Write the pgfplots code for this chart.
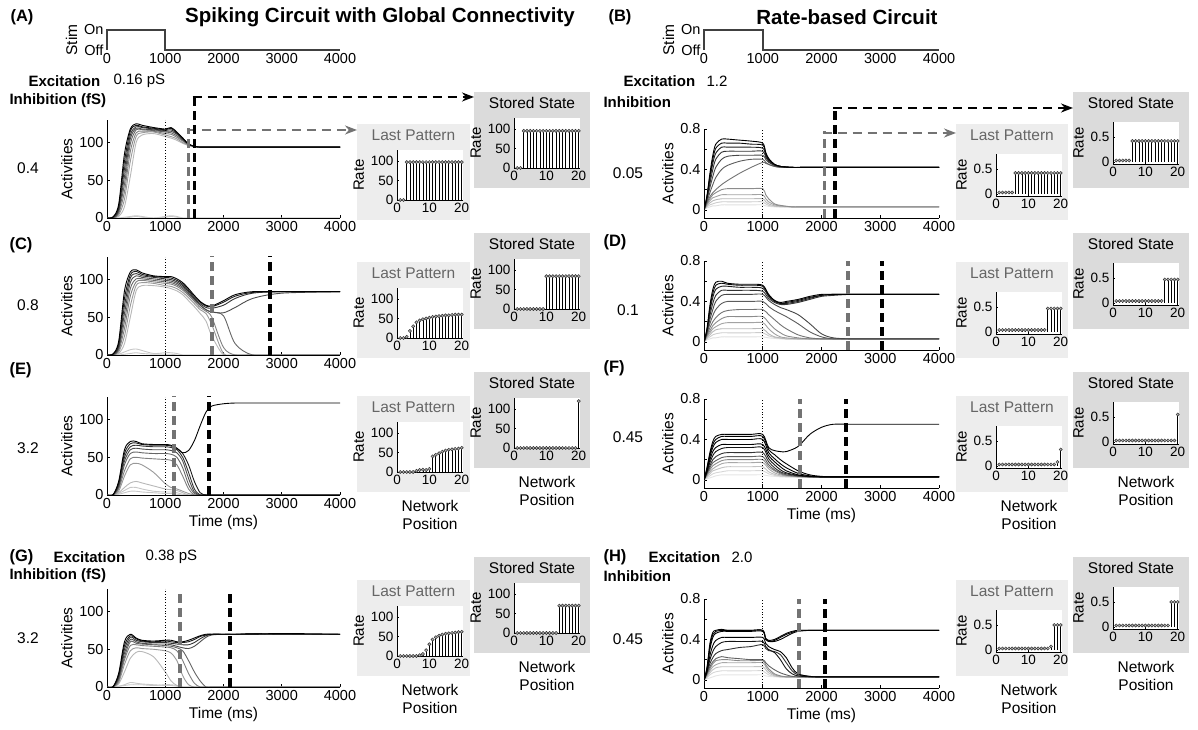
\documentclass[border=0pt]{standalone}
\usepackage{fontspec}
\setmainfont{Liberation Sans}
\usepackage{pgfplots}
\usepackage{pgfplotstable}
\pgfplotsset{compat=1.18}
\usetikzlibrary{arrows.meta}
\newcommand\fs[1]{\fontsize{#1}{#1}\selectfont}

\colorlet{s1}{black!22}\colorlet{s2}{black!22}\colorlet{s3}{black!28}\colorlet{s4}{black!40}
\colorlet{s5}{black!50}\colorlet{s6}{black!60}\colorlet{s7}{black!70}\colorlet{s8}{black!80}
\colorlet{s9}{black!90}\colorlet{s10}{black}
\colorlet{r1}{black!12}\colorlet{r2}{black!20}\colorlet{r3}{black!28}\colorlet{r4}{black!36}
\colorlet{r5}{black!45}\colorlet{r6}{black!55}\colorlet{r7}{black!64}\colorlet{r8}{black!72}
\colorlet{r9}{black!80}\colorlet{r10}{black!88}\colorlet{r11}{black!95}\colorlet{r12}{black}
\colorlet{f1}{black!10}\colorlet{f2}{black!16}\colorlet{f3}{black!24}\colorlet{f4}{black!34}
\colorlet{f5}{black!46}\colorlet{f6}{black!62}\colorlet{f7}{black!80}\colorlet{f8}{black!92}
\colorlet{f9}{black}\colorlet{f10}{black}\colorlet{f11}{black}\colorlet{f12}{black}
\colorlet{lastbg}{black!7}\colorlet{storebg}{black!14}

\pgfplotsset{
 base/.style={scale only axis, axis x line*=bottom, axis y line*=left, tick align=inside,
   major tick length=3pt, tick style={black,line width=0.6pt}, axis line style={black,line width=0.8pt},
   /pgf/number format/assume math mode=true, /pgf/number format/set thousands separator={},
   scaled ticks=false, tick label style={font=\fs{14.5}}, label style={font=\fs{15.5}}, clip mode=individual},
 mainx/.style={base, xmin=0, xmax=4000, xtick={0,1000,2000,3000,4000}, ylabel={Activities}},
 spk/.style={mainx, width=233pt, height=98pt, ymin=0, ymax=130, ytick={0,50,100}},
 rte/.style={mainx, width=235pt, height=89pt, ymin=-0.08, ymax=0.8, ytick={0,0.2,0.4,0.6,0.8}, yticklabels={0,,0.4,,0.8}},
 stembase/.style={base, width=66pt, xmin=0, xmax=20.4, xtick={0,10,20}, major tick length=2pt,
   axis background/.style={fill=white}, ylabel={Rate}, tick label style={font=\fs{13.5}}, ylabel style={font=\fs{15}}},
 sstem/.style={stembase, height=50pt, ymin=0, ymax=128, ytick={0,50,100}},
 rstem/.style={stembase, height=42pt, ymin=-0.04, ymax=0.8, ytick={0,0.5}},
 stimax/.style={scale only axis, height=20pt, xmin=0, xmax=4000, ymin=0, ymax=1, axis line style={draw=none},
   major tick length=0pt, xtick={0,1000,2000,3000,4000}, ytick={0,1}, yticklabels={Off,On}, ylabel={Stim}, clip=false,
   /pgf/number format/assume math mode=true, /pgf/number format/set thousands separator={},
   tick label style={font=\fs{14.5}}, label style={font=\fs{15.5}}},
 stemplot/.style={ycomb, black, line width=0.7pt, mark=*, mark size=1.6pt, mark options={fill=black!30, draw=black!80, line width=0.5pt, solid}},
 dgray/.style={black!55, line width=3.5pt, dash pattern=on 9pt off 5pt},
 dblack/.style={black, line width=3.5pt, dash pattern=on 9pt off 5pt},
 dotl/.style={black, dotted, line width=0.8pt},
}

\pgfplotstableread{
t c1 c2 c3 c4 c5 c6 c7 c8 c9 c10
0 0 0 0 0 0 0 0 0 0 0
100 0 0 0 0 0 0 0 1 1 1
200 0 0 2 4 6 8 10 12 15 18
300 1 0 15 25 35 45 55 65 75 85
400 2 1 55 75 88 98 105 110 115 118
500 3 2 100 108 113 117 119 121 123 125
600 2 1 110 113 115 117 118 120 121 123
800 0 0 112 114 115 116 117 118 119 120
1000 2 1 108 110 112 114 115 116 117 118
1100 3 2 106 108 111 113 115 117 119 120
1200 2 1 103 105 107 109 111 112 113 114
1300 0 0 99 100 102 103 104 105 106 106
1400 0 0 96 97 97 98 98 98 98 98
1500 0 0 94 95 95 95 95 95 95 95
1600 0 0 94 94 94 94 94 94 94 94
1700 0 0 94 94 94 94 94 94 94 94
1800 0 0 94 94 94 94 94 94 94 94
2000 0 0 94 94 94 94 94 94 94 94
2200 0 0 94 94 94 94 94 94 94 94
2500 0 0 94 94 94 94 94 94 94 94
3000 0 0 94 94 94 94 94 94 94 94
4000 0 0 94 94 94 94 94 94 94 94
}\tabA

\pgfplotstableread{
t c1 c2 c3 c4 c5 c6 c7 c8 c9 c10
0 0 0 0 0 0 0 0 0 0 0
100 0 0 0 0 0 0 0 1 1 1
200 1 0 2 4 6 8 10 12 15 18
300 4 1 15 25 35 45 55 65 75 85
400 7 2 50 65 78 88 96 102 106 110
500 8 3 85 92 97 101 105 108 111 113
600 6 2 92 96 99 101 103 105 107 109
800 2 1 92 95 97 99 101 103 104 105
1000 3 1 90 92 95 97 99 101 103 104
1100 3 1 88 91 94 96 98 100 102 104
1200 2 0 85 88 91 93 95 97 99 101
1300 0 0 80 83 86 88 90 92 94 96
1400 0 0 72 76 79 81 82 84 86 88
1500 0 0 64 68 71 73 74 75 77 79
1600 0 0 55 60 63 66 66 68 70 71
1700 0 0 45 55 58 60 60 63 65 66
1800 0 0 25 40 50 57 57 62 64 65
2000 0 0 0 2 10 52 56 66 70 72
2200 0 0 0 0 0 15 63 75 78 80
2500 0 0 0 0 0 0 75 82 83 84
3000 0 0 0 0 0 0 82 84 84 84
4000 0 0 0 0 0 0 84 84 84 84
}\tabC

\pgfplotstableread{
t c1 c2 c3 c4 c5 c6 c7 c8 c9 c10
0 0 0 0 0 0 0 0 0 0 0
100 0 0 0 0 0 0 0 0 0 0
200 1 2 3 5 8 10 12 14 16 18
300 3 6 10 25 32 40 45 50 55 60
400 5 10 16 40 48 55 60 64 68 71
500 5 10 18 42 50 57 62 66 69 71
600 4 8 16 40 49 56 61 65 67 68
800 3 5 12 30 48 55 60 64 66 67
1000 2 4 8 15 47 55 60 64 66 67
1100 2 4 7 10 46 54 59 63 65 66
1200 1 3 6 8 40 50 56 60 62 62
1300 0 1 3 5 25 36 45 50 55 56
1400 0 0 0 2 8 14 22 30 40 59
1500 0 0 0 0 0 2 4 8 18 72
1600 0 0 0 0 0 0 0 0 3 92
1700 0 0 0 0 0 0 0 0 0 110
1800 0 0 0 0 0 0 0 0 0 118
2000 0 0 0 0 0 0 0 0 0 121
2200 0 0 0 0 0 0 0 0 0 122
2500 0 0 0 0 0 0 0 0 0 122
3000 0 0 0 0 0 0 0 0 0 122
4000 0 0 0 0 0 0 0 0 0 122
}\tabE

\pgfplotstableread{
t c1 c2 c3 c4 c5 c6 c7 c8 c9 c10
0 0 0 0 0 0 0 0 0 0 0
100 0 0 0 0 0 0 0 0 0 0
200 1 1 4 6 8 10 12 14 16 18
300 3 2 20 30 36 40 45 50 55 60
400 6 3 38 48 55 60 63 66 68 70
500 5 3 46 52 56 58 60 62 64 65
600 4 3 47 51 55 57 58 60 61 62
800 3 2 40 50 54 56 57 59 60 61
1000 2 3 20 48 53 55 57 59 61 62
1100 2 3 8 45 52 54 56 58 60 62
1200 1 2 2 35 48 52 54 57 59 60
1300 0 0 0 15 35 48 52 56 59 60
1400 0 0 0 3 18 35 51 56 60 62
1500 0 0 0 0 5 20 54 59 63 65
1600 0 0 0 0 0 8 60 64 67 68
1700 0 0 0 0 0 0 66 68 69 70
1800 0 0 0 0 0 0 69 70 70 70
2000 0 0 0 0 0 0 70 70 70 70
2200 0 0 0 0 0 0 70 70 70 70
2500 0 0 0 0 0 0 70 70 71 70
3000 0 0 0 0 0 0 70 70 70 71
4000 0 0 0 0 0 0 70 70 70 70
}\tabG

\pgfplotstableread{
t c1 c2 c3 c4 c5 c6 c7 c8 c9 c10 c11 c12
0 0 0 0 0 0 0 0 0 0 0 0 0
50 .02 .03 .04 .05 .06 .07 .08 .10 .11 .12 .13 .14
100 .03 .05 .07 .09 .11 .13 .17 .22 .26 .30 .33 .36
150 .04 .06 .09 .12 .15 .17 .25 .33 .40 .46 .50 .54
200 .04 .07 .10 .13 .17 .20 .32 .42 .50 .56 .61 .65
300 .05 .08 .11 .15 .20 .25 .40 .50 .57 .62 .66 .70
400 .05 .08 .11 .15 .21 .29 .44 .53 .58 .62 .66 .70
600 .05 .08 .11 .15 .21 .36 .48 .54 .58 .62 .66 .69
800 .05 .08 .11 .15 .21 .42 .50 .54 .58 .62 .65 .68
1000 .05 .08 .11 .15 .21 .47 .50 .54 .58 .61 .64 .66
1050 .04 .06 .08 .11 .15 .46 .47 .50 .52 .54 .56 .57
1100 .035 .045 .06 .08 .11 .45 .45 .47 .48 .49 .50 .51
1200 .03 .035 .04 .05 .06 .43 .43 .44 .44 .45 .45 .45
1300 .03 .03 .035 .04 .045 .425 .42 .43 .43 .43 .43 .43
1500 .03 .03 .03 .03 .03 .42 .42 .42 .42 .42 .42 .42
1700 .03 .03 .03 .03 .03 .42 .42 .42 .42 .42 .42 .42
2000 .03 .03 .03 .03 .03 .42 .42 .42 .42 .42 .42 .42
2500 .03 .03 .03 .03 .03 .42 .42 .42 .42 .42 .42 .42
3000 .03 .03 .03 .03 .03 .42 .42 .42 .42 .42 .42 .42
4000 .03 .03 .03 .03 .03 .42 .42 .42 .42 .42 .42 .42
}\tabB

\pgfplotstableread{
t c1 c2 c3 c4 c5 c6 c7 c8 c9 c10 c11 c12
0 0 0 0 0 0 0 0 0 0 0 0 0
50 .02 .03 .04 .05 .06 .07 .08 .09 .10 .11 .12 .13
100 .03 .05 .07 .09 .11 .14 .18 .22 .26 .30 .33 .36
150 .04 .07 .10 .13 .16 .20 .26 .32 .38 .44 .48 .52
200 .04 .08 .12 .15 .19 .24 .32 .40 .46 .52 .56 .59
300 .05 .09 .13 .18 .23 .29 .38 .46 .51 .55 .58 .60
400 .05 .09 .13 .19 .25 .31 .40 .47 .51 .55 .57 .58
600 .05 .09 .13 .19 .25 .32 .40 .47 .51 .54 .56 .57
800 .05 .09 .13 .19 .25 .32 .40 .47 .51 .54 .56 .57
1000 .05 .09 .13 .19 .25 .32 .40 .47 .50 .53 .55 .56
1100 .04 .06 .08 .13 .19 .27 .35 .41 .43 .45 .46 .47
1200 .035 .045 .05 .08 .13 .22 .31 .37 .39 .40 .41 .41
1300 .03 .035 .04 .05 .09 .17 .28 .34 .37 .38 .38 .39
1400 .03 .03 .03 .04 .06 .13 .25 .32 .37 .38 .39 .40
1600 .03 .03 .03 .03 .04 .07 .18 .27 .39 .40 .41 .42
1800 .03 .03 .03 .03 .03 .04 .10 .18 .42 .43 .44 .45
2000 .03 .03 .03 .03 .03 .03 .05 .08 .45 .46 .46 .47
2200 .03 .03 .03 .03 .03 .03 .03 .04 .46 .47 .47 .47
2500 .03 .03 .03 .03 .03 .03 .03 .03 .47 .47 .47 .47
3000 .03 .03 .03 .03 .03 .03 .03 .03 .47 .47 .47 .47
4000 .03 .03 .03 .03 .03 .03 .03 .03 .47 .47 .47 .47
}\tabD

\pgfplotstableread{
t c1 c2 c3 c4 c5 c6 c7 c8 c9 c10 c11 c12
0 0 0 0 0 0 0 0 0 0 0 0 0
50 .01 .02 .03 .04 .05 .06 .07 .08 .09 .10 .11 .12
100 .02 .04 .06 .08 .10 .12 .14 .17 .20 .23 .25 .27
150 .03 .06 .09 .11 .14 .17 .20 .24 .28 .32 .35 .38
200 .04 .07 .10 .13 .16 .19 .23 .28 .32 .37 .40 .43
300 .05 .08 .12 .16 .19 .22 .26 .31 .35 .40 .43 .45
400 .05 .09 .13 .17 .20 .23 .27 .32 .35 .40 .43 .45
600 .05 .09 .13 .17 .20 .23 .27 .32 .35 .40 .43 .45
800 .05 .09 .13 .17 .20 .23 .27 .32 .35 .40 .43 .45
1000 .05 .09 .13 .17 .20 .23 .27 .32 .35 .40 .43 .45
1100 .04 .06 .08 .11 .13 .15 .18 .21 .24 .27 .30 .32
1200 .035 .045 .055 .07 .09 .10 .12 .15 .18 .21 .25 .29
1300 .03 .035 .04 .05 .06 .07 .08 .10 .13 .16 .20 .28
1400 .03 .03 .035 .04 .045 .05 .06 .07 .09 .12 .16 .28
1600 .03 .03 .03 .03 .035 .035 .04 .045 .05 .065 .09 .33
1800 .03 .03 .03 .03 .03 .03 .03 .035 .035 .04 .05 .45
2000 .03 .03 .03 .03 .03 .03 .03 .03 .03 .03 .035 .52
2200 .03 .03 .03 .03 .03 .03 .03 .03 .03 .03 .03 .55
2500 .03 .03 .03 .03 .03 .03 .03 .03 .03 .03 .03 .55
3000 .03 .03 .03 .03 .03 .03 .03 .03 .03 .03 .03 .55
4000 .03 .03 .03 .03 .03 .03 .03 .03 .03 .03 .03 .55
}\tabF

\pgfplotstableread{
t c1 c2 c3 c4 c5 c6 c7 c8 c9 c10 c11 c12
0 0 0 0 0 0 0 0 0 0 0 0 0
50 .01 .02 .03 .04 .05 .06 .07 .08 .09 .10 .11 .12
100 .02 .05 .07 .09 .11 .13 .16 .20 .24 .30 .33 .36
150 .03 .07 .10 .13 .16 .18 .22 .28 .34 .42 .45 .47
200 .04 .08 .12 .15 .19 .21 .26 .33 .39 .46 .48 .49
300 .05 .09 .13 .17 .20 .23 .29 .37 .42 .48 .49 .50
400 .05 .09 .13 .17 .20 .22 .30 .38 .42 .48 .49 .49
600 .05 .09 .13 .17 .19 .21 .32 .38 .42 .48 .49 .49
800 .05 .09 .13 .17 .19 .20 .33 .38 .42 .48 .49 .49
1000 .05 .09 .13 .17 .19 .20 .35 .38 .42 .48 .49 .49
1050 .04 .07 .10 .13 .15 .17 .31 .33 .36 .40 .41 .41
1100 .035 .05 .07 .09 .11 .14 .29 .30 .33 .38 .38 .39
1200 .03 .035 .04 .05 .06 .10 .28 .27 .30 .38 .39 .40
1300 .03 .03 .03 .035 .04 .07 .25 .20 .28 .40 .42 .43
1400 .03 .03 .03 .03 .03 .05 .17 .11 .22 .43 .45 .46
1500 .03 .03 .03 .03 .03 .035 .09 .06 .12 .46 .47 .48
1600 .03 .03 .03 .03 .03 .03 .05 .04 .06 .48 .49 .49
1800 .03 .03 .03 .03 .03 .03 .035 .03 .035 .49 .49 .49
2000 .03 .03 .03 .03 .03 .03 .03 .03 .03 .49 .49 .49
3000 .03 .03 .03 .03 .03 .03 .03 .03 .03 .49 .49 .49
4000 .03 .03 .03 .03 .03 .03 .03 .03 .03 .49 .49 .49
}\tabH

\begin{document}
\begin{tikzpicture}[x=1pt,y=1pt]
\useasboundingbox (0,0) rectangle (1198,730);
% gray boxes
\fill[lastbg] (357,510) rectangle (470,606);
\fill[storebg] (474,542) rectangle (590,638);
\fill[lastbg] (956,510) rectangle (1068,606);
\fill[storebg] (1073,542) rectangle (1189,638);
\fill[lastbg] (357,372) rectangle (470,468);
\fill[storebg] (474,401) rectangle (590,497);
\fill[lastbg] (956,372) rectangle (1068,468);
\fill[storebg] (1073,401) rectangle (1189,497);
\fill[lastbg] (357,238) rectangle (470,334);
\fill[storebg] (474,262) rectangle (590,358);
\fill[lastbg] (956,238) rectangle (1068,334);
\fill[storebg] (1073,262) rectangle (1189,358);
\fill[lastbg] (357,54) rectangle (470,150);
\fill[storebg] (474,77) rectangle (590,173);
\fill[lastbg] (956,54) rectangle (1068,150);
\fill[storebg] (1073,77) rectangle (1189,173);
% box titles
\foreach \x/\y in {413.5/595,413.5/457,413.5/323,413.5/139,1012/595,1012/457,1012/323,1012/139}
  \node[font=\fs{15.5}, text=black!60] at (\x,\y) {Last Pattern};
\foreach \x/\y in {532/627,532/486,532/347,532/162,1131/627,1131/486,1131/347,1131/162}
  \node[font=\fs{15.5}] at (\x,\y) {Stored State};
% Network Position labels
\foreach \x/\y in {430/224,547/248,1029/224,1146/248,430/40,547/63,1029/40,1146/63}{
  \node[font=\fs{15.5}] at (\x,\y) {Network};
  \node[font=\fs{15.5}] at (\x,\y-18) {Position};}
% texts
\node[font=\fs{16.5}\bfseries] at (22,713) {(A)};
\node[font=\fs{20.5}\bfseries] at (380,713) {Spiking Circuit with Global Connectivity};
\node[font=\fs{16.5}\bfseries] at (620,713) {(B)};
\node[font=\fs{20.5}\bfseries] at (847,713) {Rate-based Circuit};
\node[anchor=west,font=\fs{15}\bfseries] at (25,649) {Excitation};
\node[anchor=west,font=\fs{15}] at (110,649) {0.16 pS};
\node[anchor=west,font=\fs{15}\bfseries] at (6,629) {Inhibition (fS)};
\node[anchor=west,font=\fs{15}\bfseries] at (620,649) {Excitation};
\node[anchor=west,font=\fs{15}] at (703,649) {1.2};
\node[anchor=west,font=\fs{15}\bfseries] at (600,628) {Inhibition};
\node[anchor=west,font=\fs{16.5}\bfseries] at (6,173) {(G)};
\node[anchor=west,font=\fs{15}\bfseries] at (50,173) {Excitation};
\node[anchor=west,font=\fs{15}] at (142,173) {0.38 pS};
\node[anchor=west,font=\fs{15}\bfseries] at (6,154) {Inhibition (fS)};
\node[anchor=west,font=\fs{16.5}\bfseries] at (600,173) {(H)};
\node[anchor=west,font=\fs{15}\bfseries] at (645,173) {Excitation};
\node[anchor=west,font=\fs{15}] at (728,173) {2.0};
\node[anchor=west,font=\fs{15}\bfseries] at (600,154) {Inhibition};
\node[anchor=west,font=\fs{16.5}\bfseries] at (6,485) {(C)};
\node[anchor=west,font=\fs{16.5}\bfseries] at (600,488) {(D)};
\node[anchor=west,font=\fs{16.5}\bfseries] at (6,360) {(E)};
\node[anchor=west,font=\fs{16.5}\bfseries] at (600,362) {(F)};
\node[font=\fs{15.5}] at (28,562) {0.4};
\node[font=\fs{15.5}] at (28,425) {0.8};
\node[font=\fs{15.5}] at (28,282) {3.2};
\node[font=\fs{15.5}] at (28,92) {3.2};
\node[font=\fs{15.5}] at (628,557) {0.05};
\node[font=\fs{15.5}] at (628,420) {0.1};
\node[font=\fs{15.5}] at (628,293) {0.45};
\node[font=\fs{15.5}] at (628,91) {0.45};

% stimulus
\begin{axis}[stimax, width=233pt, at={(107pt,680pt)}, anchor=south west]
\addplot[black!75, line width=2pt] coordinates {(0,0)(0,1)(1000,1)(1000,0)(4000,0)};
\end{axis}
\begin{axis}[stimax, width=235pt, at={(704pt,680pt)}, anchor=south west]
\addplot[black!75, line width=2pt] coordinates {(0,0)(0,1)(1000,1)(1000,0)(4000,0)};
\end{axis}

% main spiking
\begin{axis}[spk, at={(107pt,512pt)}, anchor=south west]
\pgfplotsinvokeforeach{1,...,10}{\addplot[s#1, line width=0.9pt, smooth] table[x=t,y=c#1]{\tabA};}
\addplot[dotl] coordinates {(1000,0)(1000,130)};
\end{axis}
\begin{axis}[spk, at={(107pt,375pt)}, anchor=south west]
\pgfplotsinvokeforeach{1,...,10}{\addplot[s#1, line width=0.9pt, smooth] table[x=t,y=c#1]{\tabC};}
\addplot[dotl] coordinates {(1000,0)(1000,130)};
\addplot[dgray] coordinates {(1800,0)(1800,132)};
\addplot[dblack] coordinates {(2800,0)(2800,132)};
\end{axis}
\begin{axis}[spk, at={(107pt,235pt)}, anchor=south west, xlabel={Time (ms)}]
\pgfplotsinvokeforeach{1,...,10}{\addplot[s#1, line width=0.9pt, smooth] table[x=t,y=c#1]{\tabE};}
\addplot[dotl] coordinates {(1000,0)(1000,130)};
\addplot[dgray] coordinates {(1150,0)(1150,132)};
\addplot[dblack] coordinates {(1750,0)(1750,132)};
\end{axis}
\begin{axis}[spk, at={(107pt,43pt)}, anchor=south west, xlabel={Time (ms)}]
\pgfplotsinvokeforeach{1,...,10}{\addplot[s#1, line width=0.9pt, smooth] table[x=t,y=c#1]{\tabG};}
\addplot[dotl] coordinates {(1000,0)(1000,130)};
\addplot[dgray] coordinates {(1250,0)(1250,130)};
\addplot[dblack] coordinates {(2110,0)(2110,130)};
\end{axis}

% main rate
\begin{axis}[rte, at={(704pt,512pt)}, anchor=south west]
\pgfplotsinvokeforeach{1,...,12}{\addplot[r#1, line width=0.9pt, smooth] table[x=t,y=c#1]{\tabB};}
\addplot[dotl] coordinates {(1000,-0.08)(1000,0.8)};
\end{axis}
\begin{axis}[rte, at={(704pt,380pt)}, anchor=south west]
\pgfplotsinvokeforeach{1,...,12}{\addplot[r#1, line width=0.9pt, smooth] table[x=t,y=c#1]{\tabD};}
\addplot[dotl] coordinates {(1000,-0.08)(1000,0.8)};
\addplot[dgray] coordinates {(2450,-0.08)(2450,0.8)};
\addplot[dblack] coordinates {(3030,-0.08)(3030,0.8)};
\end{axis}
\begin{axis}[rte, at={(704pt,242pt)}, anchor=south west, xlabel={Time (ms)}]
\pgfplotsinvokeforeach{1,...,12}{\addplot[f#1, line width=0.9pt, smooth] table[x=t,y=c#1]{\tabF};}
\addplot[dotl] coordinates {(1000,-0.08)(1000,0.8)};
\addplot[dgray] coordinates {(1635,-0.08)(1635,0.8)};
\addplot[dblack] coordinates {(2420,-0.08)(2420,0.8)};
\end{axis}
\begin{axis}[rte, at={(704pt,42pt)}, anchor=south west, xlabel={Time (ms)}]
\pgfplotsinvokeforeach{1,...,12}{\addplot[f#1, line width=0.9pt, smooth] table[x=t,y=c#1]{\tabH};}
\addplot[dotl] coordinates {(1000,-0.08)(1000,0.8)};
\addplot[dgray] coordinates {(1620,-0.08)(1620,0.8)};
\addplot[dblack] coordinates {(2060,-0.08)(2060,0.8)};
\end{axis}

% stem plots, spiking
\begin{axis}[sstem, at={(397pt,530pt)}, anchor=south west]
\addplot[stemplot] coordinates {(1,0)(2,0)(3,97)(4,97)(5,97)(6,97)(7,97)(8,97)(9,97)(10,97)(11,97)(12,97)(13,97)(14,97)(15,97)(16,97)(17,97)(18,97)(19,97)(20,97)};
\end{axis}
\begin{axis}[sstem, at={(514pt,562pt)}, anchor=south west]
\addplot[stemplot] coordinates {(1,0)(2,0)(3,95)(4,95)(5,95)(6,95)(7,95)(8,95)(9,95)(10,95)(11,95)(12,95)(13,95)(14,95)(15,95)(16,95)(17,95)(18,95)(19,95)(20,95)};
\end{axis}
\begin{axis}[sstem, at={(397pt,392pt)}, anchor=south west]
\addplot[stemplot] coordinates {(1,0)(2,0)(3,3)(4,18)(5,30)(6,40)(7,45)(8,48)(9,50)(10,52)(11,54)(12,55)(13,56)(14,57)(15,58)(16,58)(17,59)(18,60)(19,60)(20,60)};
\end{axis}
\begin{axis}[sstem, at={(514pt,421pt)}, anchor=south west]
\addplot[stemplot] coordinates {(1,0)(2,0)(3,0)(4,0)(5,0)(6,0)(7,0)(8,0)(9,0)(10,84)(11,84)(12,84)(13,84)(14,84)(15,84)(16,84)(17,84)(18,84)(19,84)(20,84)};
\end{axis}
\begin{axis}[sstem, at={(397pt,258pt)}, anchor=south west]
\addplot[stemplot] coordinates {(1,0)(2,0)(3,0)(4,0)(5,0)(6,3)(7,5)(8,6)(9,5)(10,8)(11,40)(12,44)(13,48)(14,52)(15,55)(16,57)(17,58)(18,59)(19,60)(20,62)};
\end{axis}
\begin{axis}[sstem, at={(514pt,282pt)}, anchor=south west]
\addplot[stemplot] coordinates {(1,0)(2,0)(3,0)(4,0)(5,0)(6,0)(7,0)(8,0)(9,0)(10,0)(11,0)(12,0)(13,0)(14,0)(15,0)(16,0)(17,0)(18,0)(19,0)(20,120)};
\end{axis}
\begin{axis}[sstem, at={(397pt,74pt)}, anchor=south west]
\addplot[stemplot] coordinates {(1,0)(2,0)(3,0)(4,0)(5,0)(6,0)(7,2)(8,5)(9,15)(10,30)(11,42)(12,48)(13,52)(14,55)(15,57)(16,58)(17,59)(18,60)(19,61)(20,62)};
\end{axis}
\begin{axis}[sstem, at={(514pt,97pt)}, anchor=south west]
\addplot[stemplot] coordinates {(1,0)(2,0)(3,0)(4,0)(5,0)(6,0)(7,0)(8,0)(9,0)(10,0)(11,0)(12,0)(13,0)(14,70)(15,70)(16,70)(17,70)(18,70)(19,70)(20,70)};
\end{axis}

% stem plots, rate
\begin{axis}[rstem, at={(996pt,534pt)}, anchor=south west]
\addplot[stemplot] coordinates {(1,.03)(2,.03)(3,.03)(4,.03)(5,.03)(6,.42)(7,.42)(8,.42)(9,.42)(10,.42)(11,.42)(12,.42)(13,.42)(14,.42)(15,.42)(16,.42)(17,.42)(18,.42)(19,.42)(20,.42)};
\end{axis}
\begin{axis}[rstem, at={(1113pt,566pt)}, anchor=south west]
\addplot[stemplot] coordinates {(1,.03)(2,.03)(3,.03)(4,.03)(5,.03)(6,.42)(7,.42)(8,.42)(9,.42)(10,.42)(11,.42)(12,.42)(13,.42)(14,.42)(15,.42)(16,.42)(17,.42)(18,.42)(19,.42)(20,.42)};
\end{axis}
\begin{axis}[rstem, at={(996pt,396pt)}, anchor=south west]
\addplot[stemplot] coordinates {(1,.04)(2,.04)(3,.04)(4,.04)(5,.04)(6,.04)(7,.04)(8,.04)(9,.04)(10,.04)(11,.04)(12,.04)(13,.04)(14,.04)(15,.04)(16,.47)(17,.47)(18,.47)(19,.47)(20,.47)};
\end{axis}
\begin{axis}[rstem, at={(1113pt,425pt)}, anchor=south west]
\addplot[stemplot] coordinates {(1,.04)(2,.04)(3,.04)(4,.04)(5,.04)(6,.04)(7,.04)(8,.04)(9,.04)(10,.04)(11,.04)(12,.04)(13,.04)(14,.04)(15,.04)(16,.47)(17,.47)(18,.47)(19,.47)(20,.47)};
\end{axis}
\begin{axis}[rstem, at={(996pt,262pt)}, anchor=south west]
\addplot[stemplot] coordinates {(1,.03)(2,.03)(3,.03)(4,.03)(5,.03)(6,.03)(7,.03)(8,.03)(9,.03)(10,.03)(11,.03)(12,.03)(13,.03)(14,.03)(15,.03)(16,.03)(17,.03)(18,.03)(19,.08)(20,.33)};
\end{axis}
\begin{axis}[rstem, at={(1113pt,286pt)}, anchor=south west]
\addplot[stemplot] coordinates {(1,.03)(2,.03)(3,.03)(4,.03)(5,.03)(6,.03)(7,.03)(8,.03)(9,.03)(10,.03)(11,.03)(12,.03)(13,.03)(14,.03)(15,.03)(16,.03)(17,.03)(18,.03)(19,.03)(20,.55)};
\end{axis}
\begin{axis}[rstem, at={(996pt,78pt)}, anchor=south west]
\addplot[stemplot] coordinates {(1,.03)(2,.03)(3,.03)(4,.03)(5,.03)(6,.03)(7,.03)(8,.03)(9,.03)(10,.03)(11,.03)(12,.03)(13,.03)(14,.03)(15,.03)(16,.03)(17,.07)(18,.5)(19,.5)(20,.5)};
\end{axis}
\begin{axis}[rstem, at={(1113pt,101pt)}, anchor=south west]
\addplot[stemplot] coordinates {(1,.03)(2,.03)(3,.03)(4,.03)(5,.03)(6,.03)(7,.03)(8,.03)(9,.03)(10,.03)(11,.03)(12,.03)(13,.03)(14,.03)(15,.03)(16,.03)(17,.03)(18,.5)(19,.5)(20,.5)};
\end{axis}

% connectors
\draw[black!55, line width=3.5pt, dash pattern=on 9pt off 5pt] (188.6,512) -- (188.6,601.5);
\draw[black!55, line width=2.2pt, dash pattern=on 9pt off 6pt, -{Stealth[length=12pt,width=9pt]}] (186.9,600) -- (357,600);
\draw[black, line width=3.5pt, dash pattern=on 9pt off 5pt] (194.4,512) -- (194.4,634.5);
\draw[black, line width=2.2pt, dash pattern=on 9pt off 6pt, -{Stealth[length=12pt,width=9pt]}] (192.7,633) -- (474,633);
\draw[black!55, line width=3.5pt, dash pattern=on 9pt off 5pt] (824.4,512) -- (824.4,598.5);
\draw[black!55, line width=2.2pt, dash pattern=on 9pt off 6pt, -{Stealth[length=12pt,width=9pt]}] (822.7,597) -- (956,597);
\draw[black, line width=3.5pt, dash pattern=on 9pt off 5pt] (835,512) -- (835,623.5);
\draw[black, line width=2.2pt, dash pattern=on 9pt off 6pt, -{Stealth[length=12pt,width=9pt]}] (833.3,622) -- (1073,622);
\end{tikzpicture}
\end{document}
